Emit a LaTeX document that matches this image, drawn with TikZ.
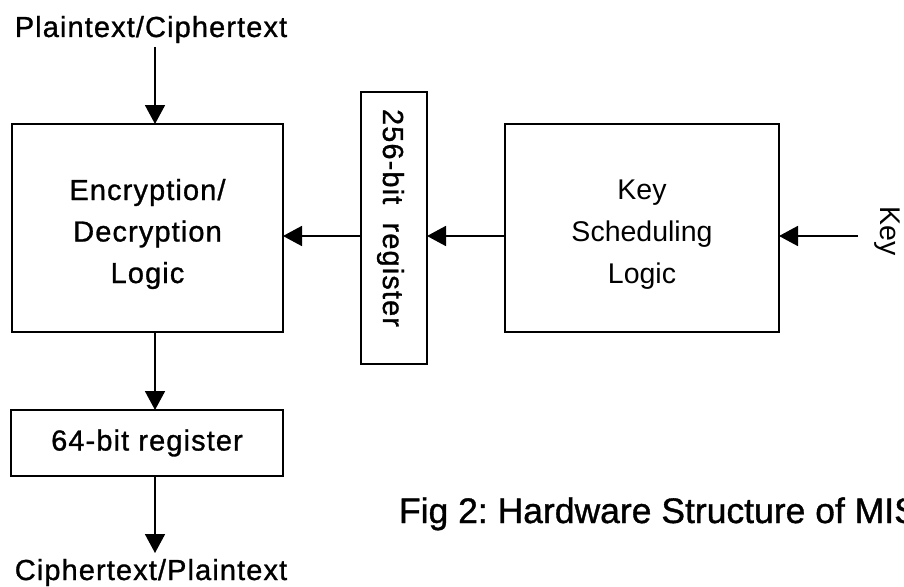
\documentclass[tikz,border=0pt]{standalone}
\usepackage{fontspec}
\setmainfont{Liberation Sans}
\newfontfamily\tracked[LetterSpace=3.8,FakeBold=1]{Liberation Sans}
\newfontfamily\captionface[FakeBold=1]{Liberation Sans}
\usetikzlibrary{arrows.meta}

\begin{document}
\begin{tikzpicture}[x=1pt,y=-1pt,
  every node/.style={inner sep=0pt, outer sep=0pt},
  block/.style={draw, line width=1.8pt},
  flow/.style={line width=1.8pt, -{Triangle[length=19pt,width=20pt]}},
  tracktext/.style={font=\tracked\fontsize{29}{41.5}\selectfont},
  plainfont/.style={font=\fontsize{28.5}{42}\selectfont},
  captionfont/.style={font=\captionface\fontsize{35.5}{43}\selectfont\frenchspacing}]

  % page frame
  \fill[white] (0,0) rectangle (904,586);
  \useasboundingbox (0,0) rectangle (904,586);
  \clip (0,0) rectangle (904,586);

  % blocks
  \node[block, minimum width=271pt, minimum height=208pt] (enc) at (147.5,228) {};
  \node[block, minimum width=66pt, minimum height=272pt] (reg256) at (394,228) {};
  \node[block, minimum width=274pt, minimum height=208pt] (keysched) at (642,228) {};
  \node[block, minimum width=272pt, minimum height=66pt, tracktext] (reg64) at (147,443) {64-bit register};

  % block labels
  \node[tracktext, align=center] (enclabel) at (147.5,234) {Encryption/\\Decryption\\Logic};
  \node[plainfont, align=center] (keylabel) at (642,235) {Key\\Scheduling\\Logic};
  \node[tracktext, rotate=-90, anchor=base] (reg256label) at (383,218) {256-bit\ \ register};

  % inputs, outputs and caption
  \node[tracktext, anchor=base] (inlabel) at (151,37) {Plaintext/Ciphertext};
  \node[tracktext, anchor=base] (outlabel) at (151,580) {Ciphertext/Plaintext};
  \node[plainfont, rotate=-90, anchor=base] (keyinlabel) at (880,231) {Key};
  \node[captionfont, anchor=base west] (caption) at (399,523) {Fig 2: Hardware Structure of MIS};

  % connector end points
  \coordinate (inTop) at (155,47);
  \coordinate (outEnd) at (155,553);
  \coordinate (busY) at (0,236);
  \coordinate (keyIn) at (858,236);

  % data flow
  \draw[flow] (inTop) -- (inTop |- enc.north);
  \draw[flow] (enc.south -| inTop) -- (reg64.north -| inTop);
  \draw[flow] (reg64.south -| inTop) -- (outEnd);
  \draw[flow] (reg256.west |- busY) -- (enc.east |- busY);
  \draw[flow] (keysched.west |- busY) -- (reg256.east |- busY);
  \draw[flow] (keyIn) -- (keysched.east |- busY);
\end{tikzpicture}
\end{document}
